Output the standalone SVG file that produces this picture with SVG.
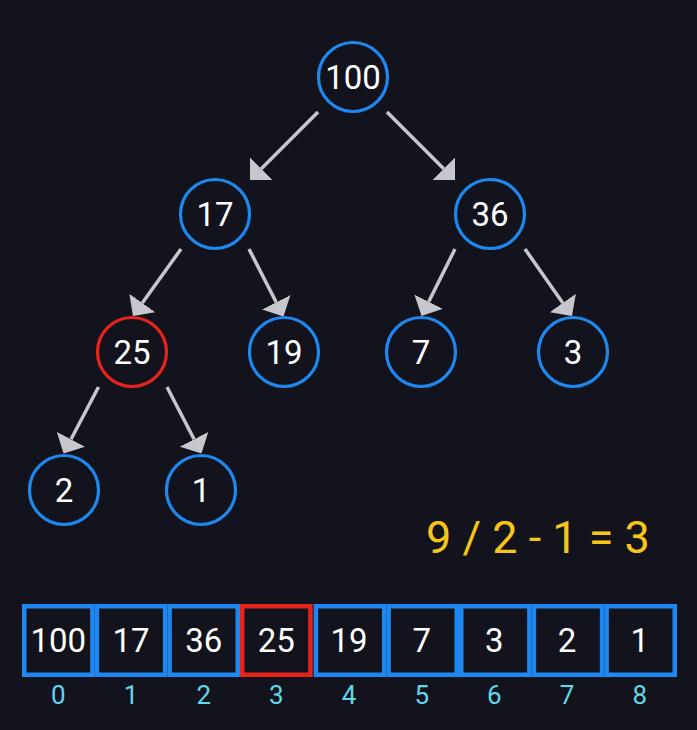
<svg xmlns="http://www.w3.org/2000/svg" width="697" height="730" viewBox="0 0 697 730">
<defs>
<style>
.node circle{fill:#12131c;stroke:#1f88f0;stroke-width:3.2}
.node.hl circle{stroke:#e8231c}
.node text,.cell text{font-family:Roboto,"Liberation Sans",sans-serif;font-size:33px;fill:#ffffff;text-anchor:middle}
.edges line{stroke:#c6c6cc;stroke-width:3.5}
.cell rect{fill:#12131c;stroke:#1f88f0;stroke-width:4.5}
.cell.hl rect{stroke:#e8231c}
.idx{font-family:Roboto,"Liberation Sans",sans-serif;font-size:26px;fill:#62d6ea;text-anchor:middle}
.formula{font-family:Roboto,"Liberation Sans",sans-serif;font-size:45px;fill:#f7c51a;text-anchor:middle}
</style>
<marker id="ah" viewBox="0 0 16 32" markerWidth="16" markerHeight="32" refX="0" refY="16" orient="auto" markerUnits="userSpaceOnUse">
<path d="M0,0 L16,16 L0,32 Z" fill="#c6c6cc"/>
</marker>
</defs>
<rect width="697" height="730" fill="#12131c"/>
<g class="edges">
<line x1="318" y1="112" x2="261.3" y2="168.7" marker-end="url(#ah)"/>
<line x1="387" y1="112" x2="443.7" y2="168.7" marker-end="url(#ah)"/>
<line x1="181" y1="249" x2="142.3" y2="303" marker-end="url(#ah)"/>
<line x1="249" y1="249" x2="276.2" y2="302.3" marker-end="url(#ah)"/>
<line x1="455" y1="249" x2="428.7" y2="301.7" marker-end="url(#ah)"/>
<line x1="525" y1="249" x2="562.8" y2="302.9" marker-end="url(#ah)"/>
<line x1="98.5" y1="387" x2="71" y2="439.3" marker-end="url(#ah)"/>
<line x1="167" y1="387" x2="194.1" y2="439.3" marker-end="url(#ah)"/>
</g>
<g id="n100" class="node"><circle cx="353" cy="77" r="34.5"/><text x="353" y="88.5">100</text></g>
<g id="n17" class="node"><circle cx="215" cy="214" r="34.5"/><text x="215" y="225.5">17</text></g>
<g id="n36" class="node"><circle cx="490" cy="214" r="34.5"/><text x="490" y="225.5">36</text></g>
<g id="n25" class="node hl"><circle cx="132" cy="352" r="34.5"/><text x="132" y="363.5">25</text></g>
<g id="n19" class="node"><circle cx="284" cy="352" r="34.5"/><text x="284" y="363.5">19</text></g>
<g id="n7" class="node"><circle cx="421" cy="352" r="34.5"/><text x="421" y="363.5">7</text></g>
<g id="n3" class="node"><circle cx="573" cy="352" r="34.5"/><text x="573" y="363.5">3</text></g>
<g id="n2" class="node"><circle cx="64" cy="490" r="34.5"/><text x="64" y="501.5">2</text></g>
<g id="n1" class="node"><circle cx="201" cy="490" r="34.5"/><text x="201" y="501.5">1</text></g>
<text class="formula" x="538" y="553">9 / 2 - 1 = 3</text>
<g id="array">
<g class="cell"><rect x="24.25" y="606.25" width="68.17" height="68.5"/><text x="58.3" y="652">100</text></g>
<g class="cell"><rect x="96.92" y="606.25" width="68.17" height="68.5"/><text x="131" y="652">17</text></g>
<g class="cell"><rect x="169.58" y="606.25" width="68.17" height="68.5"/><text x="203.7" y="652">36</text></g>
<g class="cell"><rect x="315.92" y="606.25" width="68.17" height="68.5"/><text x="349" y="652">19</text></g>
<g class="cell"><rect x="388.58" y="606.25" width="68.17" height="68.5"/><text x="421.7" y="652">7</text></g>
<g class="cell"><rect x="461.25" y="606.25" width="68.17" height="68.5"/><text x="494.3" y="652">3</text></g>
<g class="cell"><rect x="533.92" y="606.25" width="68.17" height="68.5"/><text x="567" y="652">2</text></g>
<g class="cell"><rect x="606.58" y="606.25" width="68.17" height="68.5"/><text x="639.7" y="652">1</text></g>
<g class="cell hl"><rect x="242.25" y="606.25" width="68.17" height="68.5"/><text x="276.3" y="652">25</text></g>
</g>
<g id="indices">
<text class="idx" x="58.3" y="704">0</text>
<text class="idx" x="131" y="704">1</text>
<text class="idx" x="203.7" y="704">2</text>
<text class="idx" x="276.3" y="704">3</text>
<text class="idx" x="349" y="704">4</text>
<text class="idx" x="421.7" y="704">5</text>
<text class="idx" x="494.3" y="704">6</text>
<text class="idx" x="567" y="704">7</text>
<text class="idx" x="639.7" y="704">8</text>
</g>
</svg>
